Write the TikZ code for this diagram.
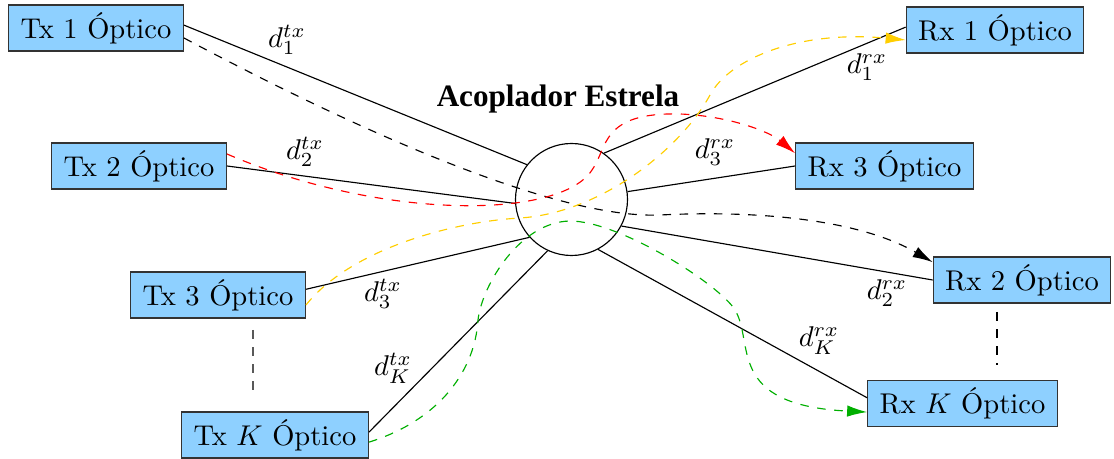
\documentclass[tikz,border=0pt]{standalone}
\usepackage{amsmath,amssymb}
\usepackage{fontspec}
\newfontfamily\titulofonte{Liberation Serif}
\usepackage{tikz}
\usetikzlibrary{arrows.meta,positioning,calc}
\definecolor{azulcaixa}{RGB}{142,208,255}
\definecolor{amarelo}{RGB}{255,206,0}
\definecolor{verde}{RGB}{0,175,0}

\begin{document}
\begin{tikzpicture}[>={Latex[length=7pt,width=4pt]}, x=0.35pt, y=-0.35pt,
    caixa/.style={draw=black!80, fill=azulcaixa, minimum height=16.1pt, inner xsep=4.2pt, inner ysep=0pt},
    sinal/.style={dashed,->}]
  \useasboundingbox (0,0) rectangle (1114,459);
  \node[caixa] (tx1) at (96,28) {Tx 1 Óptico};
  \node[caixa] (tx2) at (139,166) {Tx 2 Óptico};
  \node[caixa] (tx3) at (218,295) {Tx 3 Óptico};
  \node[caixa] (txk) at (275,435) {Tx $K$ Óptico};
  \node[caixa] (rx1) at (995,30) {Rx 1 Óptico};
  \node[caixa] (rx3) at (884.5,166) {Rx 3 Óptico};
  \node[caixa] (rx2) at (1022,280) {Rx 2 Óptico};
  \node[caixa] (rxk) at (962.5,403.5) {Rx $K$ Óptico};
  \node[draw,circle,minimum size=39.2pt,inner sep=0pt] (acop) at (571.5,199.5) {};
  \node[font=\titulofonte\bfseries\fontsize{10.9}{12}\selectfont] (titulo) at (558,99) {Acoplador Estrela};

  \draw ([yshift=1pt]tx1.east) -- (acop.142);
  \draw (tx2.east) -- (acop.184);
  \draw ([yshift=2pt]tx3.east) -- (acop.222);
  \draw ([yshift=1pt]txk.east) -- (acop.245);
  \draw (acop.55) -- ([yshift=1pt]rx1.west);
  \draw (acop.8) -- (rx3.west);
  \draw (acop.-28) -- (rx2.west);
  \draw (acop.-62) -- ([yshift=2pt]rxk.west);

  \foreach \nome/\pos/\lab in {d1tx/{287,40}/d_1^{tx}, d2tx/{305,152}/d_2^{tx}, d3tx/{383,294}/d_3^{tx}, dktx/{393,368}/d_K^{tx},
      d1rx/{867,67}/d_1^{rx}, d3rx/{715,152}/d_3^{rx}, d2rx/{887,293}/d_2^{rx}, dkrx/{819,341}/d_K^{rx}}
    \node (\nome) at (\pos) {$\lab$};

  \draw[sinal] ([yshift=-3.5pt]tx1.east) .. controls (300,100) and (540,220) .. (660,215)
    .. controls (760,210) and (860,220) .. ([yshift=-2pt]rx2.north west);
  \draw[sinal,red] ([yshift=4.2pt]tx2.east) .. controls (380,220) and (560,220) .. (592,170)
    .. controls (608,148) and (600,112) .. (680,114) .. controls (730,116) and (770,132) .. ([yshift=-3.8pt]rx3.north west);
  \draw[sinal,amarelo] ([yshift=-3.5pt]tx3.east) .. controls (350,250) and (450,222) .. (520,218)
    .. controls (600,213) and (680,150) .. (710,95) .. controls (730,58) and (800,30) .. ([yshift=-3.5pt]rx1.west);
  \draw[sinal,verde] ([yshift=-2.5pt]txk.east) .. controls (440,420) and (475,370) .. (478,320)
    .. controls (482,285) and (520,222) .. (570,221) .. controls (620,221) and (720,285) .. (735,310)
    .. controls (755,343) and (725,405) .. ([yshift=-3pt]rxk.west);

  \draw[dashed,gray!70!black,line width=1pt] (253,330) -- (253,392);
  \draw[dashed] (997,312) -- (997,365);
\end{tikzpicture}
\end{document}
